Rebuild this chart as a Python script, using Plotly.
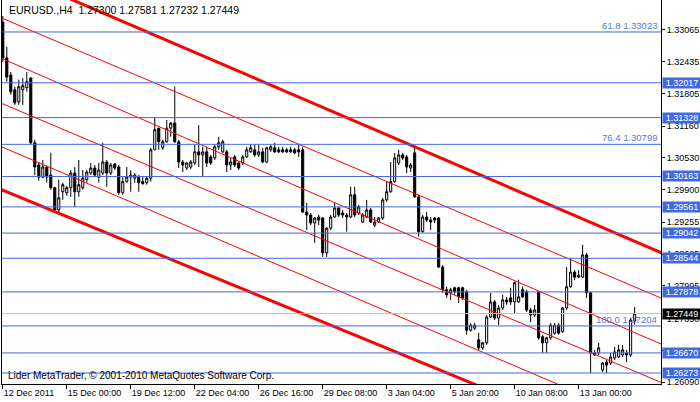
import plotly.graph_objects as go

# ---------------- data (EURUSD H4) ----------------
open_ = [1.3322, 1.3251, 1.3217, 1.3188, 1.3164, 1.3188, 1.3192, 1.3211, 1.3083, 1.3039,
         1.3015, 1.3035, 1.3019, 1.2994, 1.2950, 1.2986, 1.2984, 1.2994, 1.3023, 1.2986,
         1.2994, 1.3010, 1.3023, 1.3033, 1.3015, 1.3023, 1.3045, 1.3023, 1.3041, 1.3035,
         1.2984, 1.3006, 1.3015, 1.3013, 1.3015, 1.3006, 1.3004, 1.3013, 1.3069, 1.3112,
         1.3073, 1.3085, 1.3112, 1.3122, 1.3085, 1.3045, 1.3033, 1.3035, 1.3043, 1.3065,
         1.3059, 1.3065, 1.3055, 1.3053, 1.3075, 1.3065, 1.3065, 1.3039, 1.3055, 1.3043,
         1.3043, 1.3055, 1.3065, 1.3069, 1.3059, 1.3065, 1.3045, 1.3069, 1.3073, 1.3069,
         1.3069, 1.3069, 1.3069, 1.3069, 1.3069, 1.3069, 1.2946, 1.2940, 1.2924, 1.2936,
         1.2934, 1.2865, 1.2914, 1.2936, 1.2954, 1.2944, 1.2940, 1.2936, 1.2980, 1.2944,
         1.2926, 1.2936, 1.2950, 1.2920, 1.2926, 1.2934, 1.2970, 1.2986, 1.3006, 1.3043,
         1.3059, 1.3055, 1.3033, 1.3063, 1.2976, 1.2907, 1.2936, 1.2930, 1.2934, 1.2934,
         1.2837, 1.2792, 1.2786, 1.2796, 1.2796, 1.2796, 1.2788, 1.2712, 1.2716, 1.2693,
         1.2677, 1.2687, 1.2738, 1.2768, 1.2736, 1.2756, 1.2772, 1.2776, 1.2768, 1.2768,
         1.2792, 1.2788, 1.2752, 1.2742, 1.2788, 1.2699, 1.2687, 1.2697, 1.2706, 1.2722,
         1.2709, 1.2756, 1.2798, 1.2827, 1.2817, 1.2817, 1.2861, 1.2786, 1.2667, 1.2667,
         1.2633, 1.2649, 1.2647, 1.2657, 1.2659, 1.2663, 1.2667, 1.2663, 1.27300]
high = [1.3334, 1.3273, 1.3223, 1.3194, 1.3208, 1.3211, 1.3223, 1.3213, 1.3089, 1.3045,
        1.3049, 1.3037, 1.3063, 1.2996, 1.3010, 1.3004, 1.2998, 1.3029, 1.3035, 1.3049,
        1.3029, 1.3029, 1.3043, 1.3039, 1.3043, 1.3083, 1.3049, 1.3043, 1.3043, 1.3039,
        1.3015, 1.3035, 1.3029, 1.3023, 1.3019, 1.3015, 1.3015, 1.3073, 1.3132, 1.3112,
        1.3089, 1.3128, 1.3124, 1.3194, 1.3089, 1.3049, 1.3045, 1.3049, 1.3079, 1.3118,
        1.3075, 1.3075, 1.3059, 1.3079, 1.3095, 1.3089, 1.3069, 1.3053, 1.3059, 1.3045,
        1.3059, 1.3075, 1.3079, 1.3079, 1.3079, 1.3073, 1.3075, 1.3079, 1.3083, 1.3075,
        1.3075, 1.3073, 1.3075, 1.3073, 1.3079, 1.3075, 1.2964, 1.2944, 1.2936, 1.2940,
        1.2936, 1.2916, 1.2940, 1.2964, 1.2956, 1.2950, 1.2944, 1.2996, 1.2996, 1.2960,
        1.2944, 1.2970, 1.2954, 1.2936, 1.2936, 1.2974, 1.3006, 1.3045, 1.3063, 1.3069,
        1.3063, 1.3059, 1.3043, 1.3073, 1.2980, 1.2940, 1.2946, 1.2936, 1.2936, 1.2936,
        1.2841, 1.2798, 1.2796, 1.2798, 1.2798, 1.2798, 1.2792, 1.2726, 1.2726, 1.2707,
        1.2689, 1.2742, 1.2786, 1.2772, 1.2762, 1.2782, 1.2778, 1.2796, 1.2808, 1.2812,
        1.2798, 1.2792, 1.2756, 1.2762, 1.2788, 1.2703, 1.2699, 1.2726, 1.2726, 1.2726,
        1.2758, 1.2837, 1.2855, 1.2831, 1.2831, 1.2881, 1.2865, 1.2788, 1.2673, 1.2687,
        1.2649, 1.2653, 1.2667, 1.2679, 1.2683, 1.2683, 1.2673, 1.2736, 1.27581]
low = [1.3243, 1.3204, 1.3178, 1.3158, 1.3158, 1.3158, 1.3184, 1.3079, 1.3019, 1.3008,
       1.3013, 1.3004, 1.2990, 1.2944, 1.2944, 1.2970, 1.2978, 1.2976, 1.2956, 1.2976,
       1.2990, 1.3004, 1.3019, 1.3015, 1.3004, 1.3019, 1.2996, 1.3019, 1.3029, 1.2980,
       1.2980, 1.3004, 1.2986, 1.3004, 1.2986, 1.3000, 1.3000, 1.3006, 1.3069, 1.3069,
       1.3069, 1.3083, 1.3095, 1.3083, 1.3033, 1.3025, 1.3029, 1.3031, 1.3039, 1.3035,
       1.3015, 1.3035, 1.3039, 1.3049, 1.3069, 1.3063, 1.3025, 1.3029, 1.3035, 1.3029,
       1.3039, 1.3053, 1.3063, 1.3055, 1.3055, 1.3043, 1.3043, 1.3065, 1.3063, 1.3063,
       1.3063, 1.3063, 1.3063, 1.3061, 1.3055, 1.2944, 1.2910, 1.2920, 1.2885, 1.2920,
       1.2857, 1.2857, 1.2910, 1.2934, 1.2936, 1.2934, 1.2907, 1.2934, 1.2936, 1.2940,
       1.2924, 1.2934, 1.2924, 1.2916, 1.2924, 1.2930, 1.2966, 1.2984, 1.3004, 1.3039,
       1.3049, 1.3023, 1.3025, 1.2974, 1.2897, 1.2905, 1.2926, 1.2910, 1.2924, 1.2835,
       1.2786, 1.2776, 1.2772, 1.2782, 1.2766, 1.2772, 1.2703, 1.2709, 1.2712, 1.2673,
       1.2673, 1.2683, 1.2736, 1.2732, 1.2722, 1.2752, 1.2762, 1.2762, 1.2746, 1.2766,
       1.2776, 1.2748, 1.2728, 1.2738, 1.2693, 1.2667, 1.2667, 1.2693, 1.2703, 1.2703,
       1.2707, 1.2752, 1.2796, 1.2811, 1.2815, 1.2815, 1.2776, 1.2627, 1.2661, 1.2663,
       1.2629, 1.2627, 1.2643, 1.2653, 1.2657, 1.2659, 1.2649, 1.2659, 1.27232]
close = [1.3251, 1.3213, 1.3184, 1.3162, 1.3194, 1.3196, 1.3204, 1.3083, 1.3035, 1.3015,
         1.3035, 1.3015, 1.2994, 1.2950, 1.2974, 1.3000, 1.2994, 1.3023, 1.2986, 1.3000,
         1.3013, 1.3025, 1.3033, 1.3019, 1.3029, 1.3045, 1.3023, 1.3039, 1.3033, 1.2984,
         1.3006, 1.3015, 1.3019, 1.3019, 1.3004, 1.3002, 1.3013, 1.3069, 1.3109, 1.3085,
         1.3085, 1.3112, 1.3122, 1.3085, 1.3045, 1.3039, 1.3043, 1.3045, 1.3065, 1.3059,
         1.3065, 1.3043, 1.3043, 1.3075, 1.3083, 1.3085, 1.3039, 1.3045, 1.3039, 1.3033,
         1.3055, 1.3069, 1.3073, 1.3059, 1.3065, 1.3045, 1.3073, 1.3075, 1.3065, 1.3065,
         1.3065, 1.3065, 1.3065, 1.3063, 1.3065, 1.2946, 1.2940, 1.2924, 1.2934, 1.2930,
         1.2865, 1.2914, 1.2936, 1.2954, 1.2940, 1.2940, 1.2936, 1.2980, 1.2940, 1.2956,
         1.2940, 1.2950, 1.2926, 1.2926, 1.2934, 1.2970, 1.2986, 1.3006, 1.3053, 1.3059,
         1.3053, 1.3035, 1.3039, 1.2976, 1.2907, 1.2936, 1.2930, 1.2926, 1.2930, 1.2837,
         1.2792, 1.2782, 1.2792, 1.2788, 1.2778, 1.2776, 1.2712, 1.2722, 1.2722, 1.2677,
         1.2687, 1.2738, 1.2768, 1.2736, 1.2756, 1.2772, 1.2768, 1.2768, 1.2806, 1.2778,
         1.2778, 1.2752, 1.2742, 1.2752, 1.2697, 1.2687, 1.2697, 1.2722, 1.2722, 1.2706,
         1.2756, 1.2798, 1.2827, 1.2817, 1.2821, 1.2861, 1.2786, 1.2667, 1.2663, 1.2677,
         1.2647, 1.2643, 1.2659, 1.2669, 1.2673, 1.2673, 1.2663, 1.2732, 1.27449]

xtick_bars = [0, 16, 32, 48, 64, 80, 96, 112, 128, 144]
xtick_labels = ["12 Dec 2011", "15 Dec 00:00", "19 Dec 12:00", "22 Dec 04:00", "26 Dec 16:00",
                "29 Dec 08:00", "3 Jan 04:00", "5 Jan 20:00", "10 Jan 08:00", "13 Jan 00:00"]
ytick_values = [1.33065, 1.32435, 1.31805, 1.31160, 1.30530, 1.29900, 1.29255,
                1.28625, 1.27995, 1.27350, 1.26720, 1.26090]

fib_levels = [61.8, 76.4, 100.0]
fib_prices = [1.33023, 1.30799, 1.27204]
hline_prices = [1.32017, 1.31328, 1.30163, 1.29561, 1.29042, 1.28544, 1.27878, 1.26670, 1.26273]
bid_price = 1.27449

# trend / channel lines: two anchor points each (bar index, price)
chan_bar0 = [0, 0, 0, 0, 0, 0]
chan_price0 = [1.3425, 1.3329, 1.3249, 1.3160, 1.3074, 1.2989]
chan_bar1 = [164.5, 164.5, 164.5, 164.2, 138.5, 117.65]
chan_price1 = [1.2866, 1.2776, 1.2685, 1.2610, 1.2606, 1.2606]
chan_thick = [True, False, False, False, False, True]

title_text = "EURUSD.,H4  1.27300 1.27581 1.27232 1.27449"
footer_text = "Lider MetaTrader, © 2001-2010 MetaQuotes Software Corp."

# ---------------- figure ----------------
FONT = "Liberation Sans"
BLUE = "#4169E1"
bars = list(range(len(open_)))
x_lo, x_hi = -0.2, 164.6
y_lo, y_hi = 1.26055, 1.33656

fig = go.Figure()
fig.add_trace(go.Candlestick(
    x=bars, open=open_, high=high, low=low, close=close,
    increasing=dict(line=dict(color="black", width=1), fillcolor="white"),
    decreasing=dict(line=dict(color="black", width=1), fillcolor="black"),
    whiskerwidth=0, showlegend=False, hoverinfo="skip"))

for b0, p0, b1, p1, thick in zip(chan_bar0, chan_price0, chan_bar1, chan_price1, chan_thick):
    slope = (p1 - p0) / (b1 - b0)
    xs = [x_lo - 2, x_hi + 2]
    ys = [p0 + slope * (xx - b0) for xx in xs]
    fig.add_trace(go.Scatter(x=xs, y=ys, mode="lines", showlegend=False, hoverinfo="skip",
                             line=dict(color="#FF0000", width=3 if thick else 1)))

shapes = []
for p in fib_prices + hline_prices:
    shapes.append(dict(type="line", xref="paper", yref="y", x0=0, x1=1, y0=p, y1=p,
                       line=dict(color=BLUE, width=1)))
shapes.append(dict(type="line", xref="paper", yref="y", x0=0, x1=1, y0=bid_price, y1=bid_price,
                   line=dict(color="#C0C0C0", width=1)))

annotations = []
for lvl, p in zip(fib_levels, fib_prices):
    annotations.append(dict(xref="paper", yref="y", x=1, y=p, xanchor="right", yanchor="bottom",
                            xshift=-2, yshift=-1, showarrow=False, text=f"{lvl:.1f} {p:.5f}",
                            font=dict(family=FONT, size=9.5, color="#5577E0")))
for p in hline_prices:
    annotations.append(dict(xref="paper", yref="y", x=1, y=p, xanchor="left", yanchor="middle",
                            xshift=1, showarrow=False, text=f"{p:.5f}", width=38, height=10,
                            align="center", bgcolor=BLUE, borderpad=0,
                            font=dict(family=FONT, size=9, color="white")))
annotations.append(dict(xref="paper", yref="y", x=1, y=bid_price, xanchor="left", yanchor="middle",
                        xshift=1, showarrow=False, text=f"{bid_price:.5f}", width=38, height=10,
                        align="center", bgcolor="black", borderpad=0,
                        font=dict(family=FONT, size=9, color="white")))
annotations.append(dict(xref="paper", yref="paper", x=0, y=1, xanchor="left", yanchor="top",
                        xshift=5, yshift=-2, showarrow=False, text=title_text,
                        font=dict(family=FONT, size=10.5, color="black")))
annotations.append(dict(xref="paper", yref="paper", x=0, y=0, xanchor="left", yanchor="bottom",
                        xshift=4, yshift=1, showarrow=False, text=footer_text,
                        font=dict(family=FONT, size=10, color="black")))

fig.update_layout(
    width=700, height=402,
    margin=dict(l=2, r=39, t=0, b=18),
    paper_bgcolor="white", plot_bgcolor="white",
    boxgap=0.25,
    shapes=shapes, annotations=annotations,
    font=dict(family=FONT, size=9, color="black"),
    xaxis=dict(range=[x_lo, x_hi], tickvals=xtick_bars, ticktext=xtick_labels,
               ticks="outside", ticklen=4, tickcolor="black", showline=True, linecolor="black",
               linewidth=1, showgrid=False, zeroline=False, ticklabelposition="outside right",
               tickangle=0,
               tickfont=dict(family=FONT, size=9, color="black"),
               rangeslider=dict(visible=False), fixedrange=True),
    yaxis=dict(range=[y_lo, y_hi], side="right", tickvals=ytick_values,
               ticktext=[f"{v:.5f}" for v in ytick_values],
               ticks="outside", ticklen=3, tickcolor="black", showline=True, mirror=True,
               linecolor="black", linewidth=1, showgrid=False, zeroline=False,
               tickfont=dict(family=FONT, size=9, color="black"), fixedrange=True),
)

fig.write_html("out.html", config={"displayModeBar": False},
               post_script="document.body.style.margin='0';document.body.style.padding='0';"
                           "document.body.style.overflow='hidden';")
